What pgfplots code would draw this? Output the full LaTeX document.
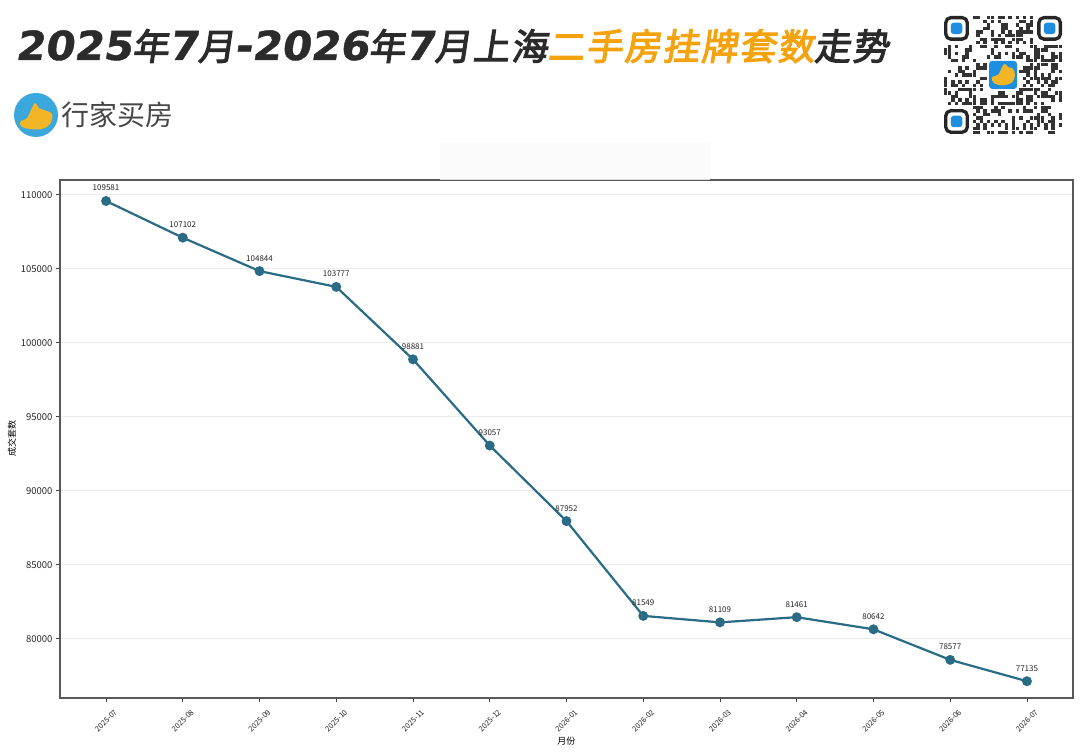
\documentclass[border=0pt]{standalone}
\usepackage{fontspec}
\usepackage{pgfplots}
\usepackage{pgfplotstable}
\pgfplotsset{compat=1.18}
\setmainfont{Noto Sans CJK SC}
\newfontfamily\titlefont{Noto Sans CJK SC}[FakeBold=3, FakeSlant=0.15, LetterSpace=5]
\newfontfamily\titledigits{DejaVu Sans}[FakeStretch=1.05, FakeSlant=0.15, FakeBold=1]
\definecolor{linec}{HTML}{2A6B85}
\definecolor{titledark}{HTML}{2B2B2B}
\definecolor{titleorange}{HTML}{F5A20F}
\definecolor{logoblue}{HTML}{3AA8DC}
\definecolor{logoorange}{HTML}{F2B526}
\definecolor{qrblue}{HTML}{1E8FE0}

\pgfplotstableread{
x y
0 109581
1 107102
2 104844
3 103777
4 98881
5 93057
6 87952
7 81549
8 81109
9 81461
10 80642
11 78577
12 77135
}\datatable

\newcommand\TD{\titledigits\bfseries\fontsize{40}{45}\selectfont}
\newcommand\TC{\titlefont\fontsize{36.5}{40}\selectfont}

\begin{document}
\begin{tikzpicture}
\useasboundingbox (0pt,0pt) rectangle (1080pt,753pt);
\fill[white] (0pt,0pt) rectangle (1080pt,753pt);

% title
\node[anchor=base west, inner sep=0pt] at (15pt,693pt) {%
\color{titledark}{\TD 2025}{\TC 年}{\TD 7}{\TC 月}{\TD -2026}{\TC 年}{\TD 7}{\TC 月上海}{\color{titleorange}\TC 二手房挂牌套数}{\TC 走势}};

% logo
\begin{scope}[x=1pt,y=1pt]
\fill[logoblue] (36,638) circle (22);
\fill[logoorange] plot[smooth cycle, tension=0.6] coordinates {(20,631) (27,635) (31,643) (35,650) (39,645) (44,643) (52,639) (50,629) (42,624) (30,624) (22,626)};
\node[anchor=west, inner sep=0pt, text=black!72] at (61,638) {\fontsize{28}{32}\selectfont 行家买房};
\end{scope}

% QR code (decorative)
\begin{scope}[shift={(944pt,619pt)}, x=3.58pt, y=3.58pt]
  \foreach \i in {0,...,32}{
    \foreach \j in {0,...,32}{
      \pgfmathtruncatemacro\qa{mod(\i*17+\j*31+\i*\j*3,23)}
      \pgfmathtruncatemacro\qv{mod(\qa*\qa+\i*7+\j*3,13)}
      \pgfmathtruncatemacro\qsk{((\i<8)&&(\j<8)) || ((\i>24)&&(\j>24)) || ((\i<8)&&(\j>24)) || ((\i>11)&&(\i<21)&&(\j>11)&&(\j<21))}
      \ifnum\qsk=0 \ifnum\qv<6 \fill[black!80] (\i,\j) rectangle ++(0.95,0.95); \fi\fi
    }
  }
  \foreach \ox/\oy in {0/0, 0/26, 26/26}{
    \draw[black!85, line width=3.3pt, rounded corners=5pt] (\ox+0.5,\oy+0.5) rectangle ++(6,6);
    \fill[qrblue, rounded corners=3pt] (\ox+1.9,\oy+1.9) rectangle ++(3.2,3.2);
  }
  \fill[white, rounded corners=3pt] (12.2,12.2) rectangle (20.8,20.8);
  \fill[qrblue, rounded corners=3pt] (12.6,12.6) rectangle (20.4,20.4);
  \fill[logoorange] plot[smooth cycle, tension=0.6] coordinates {(13.4,15.8) (15.2,16.6) (16.1,18.5) (17.0,19.6) (17.9,18.7) (19.3,18.2) (19.8,16.4) (19.0,14.4) (16.5,13.6) (14.0,14.2)};
\end{scope}

\begin{axis}[
  at={(60pt,55pt)}, anchor=south west,
  width=1013pt, height=518pt, scale only axis,
  xmin=-0.6, xmax=12.6, ymin=76000, ymax=111000,
  xtick={0,...,12},
  xticklabels={2025-07,2025-08,2025-09,2025-10,2025-11,2025-12,2026-01,2026-02,2026-03,2026-04,2026-05,2026-06,2026-07},
  ytick={80000,85000,...,110000},
  scaled y ticks=false,
  yticklabel style={/pgf/number format/fixed, /pgf/number format/precision=0, /pgf/number format/1000 sep={}},
  /pgf/number format/assume math mode=true,
  tick align=outside, major tick length=4pt,
  xtick pos=bottom, ytick pos=left,
  tick style={color=black!75, line width=0.8pt},
  axis line style={black!65, line width=1.2pt},
  ymajorgrids, grid style={black!7, line width=0.6pt},
  y tick label style={font=\fontsize{9.5}{11}\selectfont, text=black!85},
  x tick label style={font=\fontsize{7.5}{9}\selectfont, rotate=45, anchor=center, xshift=-13.4pt, yshift=-13.4pt, text=black!85},
  ylabel={成交套数}, xlabel={月份},
  every axis y label/.style={at={(axis description cs:0,0.5)}, rotate=90, yshift=48pt, anchor=center, font=\fontsize{9}{11}\selectfont},
  every axis x label/.style={at={(axis description cs:0.5,0)}, yshift=-43pt, anchor=center, font=\fontsize{9}{11}\selectfont},
  clip=false,
]
\addplot[color=linec, line width=2.2pt, mark=*, mark size=3.8pt, mark options={fill=linec, draw=linec, solid},
  point meta=explicit symbolic,
  nodes near coords,
  every node near coord/.style={font=\fontsize{8}{9}\selectfont, text=black!85, anchor=south, inner sep=1pt, yshift=7.8pt}]
  table[x=x, y=y, meta=y] {\datatable};
\end{axis}

% faint box over top spine
\fill[black!1.5] (440pt,574pt) rectangle (710pt,610pt);
\draw[black!15, line width=0.8pt] (440pt,574pt) -- (710pt,574pt);
\end{tikzpicture}
\end{document}
